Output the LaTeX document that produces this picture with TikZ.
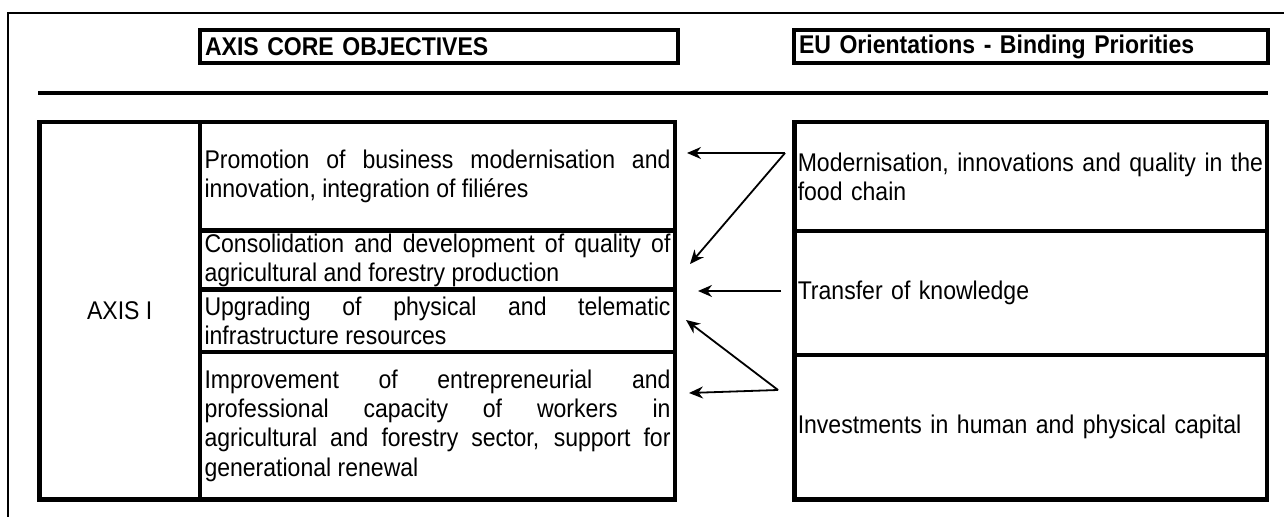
\documentclass[tikz,border=0pt]{standalone}
\usepackage{fontspec}
\newfontfamily\arialf[FakeStretch=0.9]{Liberation Sans}
\usetikzlibrary{arrows.meta}
\hyphenpenalty=10000
\exhyphenpenalty=10000
\begin{document}
\begin{tikzpicture}[x=0.5pt,y=-0.5pt,
  txt/.style={font=\arialf\fontsize{12.8}{14.6}\selectfont},
  cell/.style={draw, line width=2.4pt, inner sep=0pt, txt},
  lcell/.style={cell, minimum width=237.5pt, text width=233pt, align=justify},
  rcell/.style={cell, minimum width=236.25pt, text width=233pt, align=left},
  hdr/.style={draw, line width=2.4pt, inner sep=0pt, minimum height=16.5pt, align=left,
     font=\arialf\bfseries\fontsize{12.8}{14.6}\selectfont},
  arr/.style={line width=0.9pt, -{Stealth[length=7pt,width=6pt]}}]
\useasboundingbox (0,0) rectangle (1284,517);
% frame
\draw[line width=1pt] (1290,13) -- (8,13) -- (8,525);
% headers
\node[hdr, minimum width=239pt, text width=234pt] (h1) at (439,46.5) {AXIS CORE OBJECTIVES};
\node[hdr, minimum width=237pt, text width=232pt] (h2) at (1031,46.5) {EU Orientations - Binding Priorities};
% rule
\draw[line width=2pt] (38,93) -- (1268,93);
% left table
\node[cell, minimum width=80.25pt, minimum height=188.75pt] (axis) at (119.75,310.75) {AXIS I};
\node[lcell, minimum height=54.25pt] (r1) at (437.5,176.25) {Promotion of business modernisation and\linebreak innovation, integration of filiéres};
\node[lcell, minimum height=29.5pt] (r2) at (437.5,260) {Consolidation and development of quality of\linebreak agricultural and forestry production};
\node[lcell, minimum height=31.25pt] (r3) at (437.5,320.75) {Upgrading of physical and telematic\linebreak infrastructure resources};
\node[lcell, minimum height=73.75pt] (r4) at (437.5,425.75) {Improvement of entrepreneurial and\linebreak professional capacity of workers in\linebreak agricultural and forestry sector, support for\linebreak generational renewal};
% right table
\node[rcell, minimum height=54.5pt] (p1) at (1030.75,176.5) {Modernisation, innovations and quality in the\\ food chain};
\node[rcell, minimum height=62pt] (p2) at (1030.75,293) {Transfer of knowledge};
\node[rcell, minimum height=72.25pt] (p3) at (1030.75,427.25) {Investments in human and physical capital};
% arrow endpoints
\coordinate (s1) at (785,153);
\coordinate (s2) at (781,291);
\coordinate (s3) at (778,390);
\coordinate (t1) at (687,153);
\coordinate (t2) at (690,264);
\coordinate (t3) at (698,291);
\coordinate (t4) at (686,320);
\coordinate (t5) at (689,393);
\draw[arr] (s1) -- (t1);
\draw[arr] (s1) -- (t2);
\draw[arr] (s2) -- (t3);
\draw[arr] (s3) -- (t4);
\draw[arr] (s3) -- (t5);
\end{tikzpicture}
\end{document}
